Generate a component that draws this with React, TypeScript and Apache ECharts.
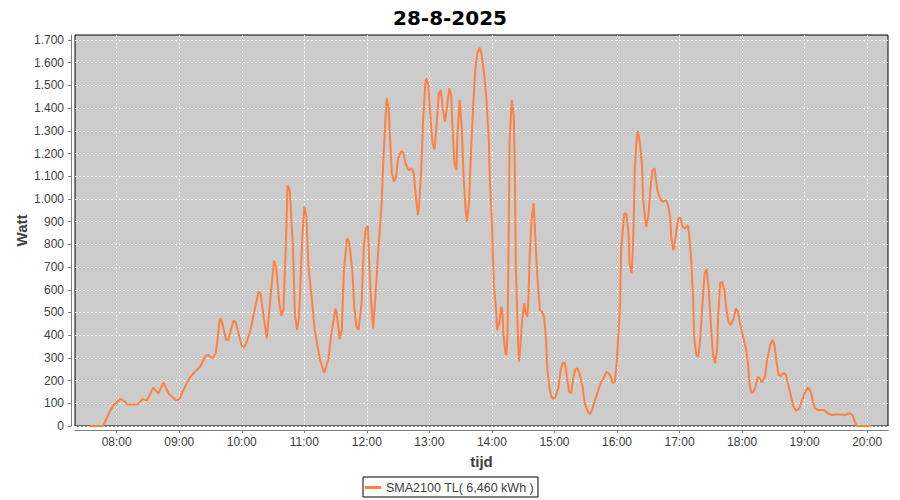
import React, { useEffect, useRef } from "react";
import * as echarts from "echarts";

const chartTitle = "28-8-2025";
const seriesName = "SMA2100 TL( 6,460 kWh )";
const yAxisName = "Watt";
const xAxisName = "tijd";

const times: string[] = [
  "07:34","07:47","07:54","07:57","08:04","08:08","08:10","08:20","08:25","08:29",
  "08:35","08:40","08:45","08:50","08:57","09:00","09:04","09:10","09:15","09:20",
  "09:25","09:28","09:32","09:35","09:37","09:39","09:41","09:45","09:47","09:52",
  "09:54","10:00","10:03","10:08","10:12","10:16","10:18","10:21","10:24","10:27",
  "10:31","10:33","10:36","10:38","10:40","10:42","10:44","10:46","10:49","10:51",
  "10:53","10:55","10:58","11:00","11:02","11:04","11:07","11:10","11:15","11:19",
  "11:23","11:26","11:30","11:31","11:34","11:36","11:38","11:41","11:43","11:46",
  "11:48","11:50","11:52","11:55","11:57","11:59","12:01","12:02","12:04","12:06",
  "12:08","12:11","12:14","12:16","12:18","12:19","12:21","12:22","12:24","12:26",
  "12:28","12:30","12:33","12:35","12:37","12:40","12:43","12:45","12:47","12:49",
  "12:50","12:52","12:54","12:56","12:57","12:59","13:01","13:03","13:05","13:07",
  "13:09","13:11","13:13","13:15","13:17","13:19","13:21","13:22","13:24","13:26",
  "13:27","13:29","13:31","13:33","13:35","13:36","13:38","13:40","13:42","13:44",
  "13:46","13:48","13:50","13:52","13:53","13:55","13:57","13:58","14:00","14:01",
  "14:02","14:04","14:05","14:07","14:09","14:10","14:11","14:13","14:14","14:15",
  "14:16","14:17","14:19","14:21","14:22","14:23","14:25","14:26","14:27","14:29",
  "14:31","14:32","14:34","14:35","14:36","14:38","14:40","14:41","14:43","14:45",
  "14:46","14:48","14:50","14:52","14:53","14:55","14:57","14:59","15:01","15:04",
  "15:06","15:08","15:10","15:12","15:14","15:16","15:18","15:20","15:22","15:24",
  "15:27","15:29","15:32","15:34","15:36","15:39","15:42","15:45","15:48","15:50",
  "15:52","15:54","15:56","15:58","16:00","16:01","16:03","16:04","16:07","16:09",
  "16:11","16:12","16:14","16:15","16:16","16:17","16:19","16:20","16:22","16:24",
  "16:25","16:27","16:28","16:30","16:32","16:34","16:36","16:37","16:39","16:42",
  "16:44","16:47","16:49","16:51","16:52","16:54","16:55","16:57","16:59","17:01",
  "17:03","17:05","17:08","17:09","17:11","17:13","17:14","17:16","17:18","17:20",
  "17:22","17:24","17:26","17:28","17:30","17:32","17:34","17:36","17:37","17:39",
  "17:41","17:43","17:45","17:47","17:49","17:52","17:54","17:56","17:58","18:01",
  "18:04","18:06","18:07","18:09","18:11","18:13","18:15","18:17","18:19","18:22",
  "18:24","18:27","18:29","18:31","18:33","18:35","18:37","18:40","18:42","18:44",
  "18:47","18:49","18:52","18:55","18:57","19:00","19:03","19:06","19:08","19:10",
  "19:13","19:19","19:22","19:26","19:30","19:36","19:38","19:43","19:46","19:48",
  "19:50","20:04"
];

const watts: number[] = [
  0,0,70,92,119,107,95,95,119,112,
  169,144,191,141,114,117,158,213,239,261,
  308,313,298,320,393,474,459,379,379,464,
  459,352,349,415,503,591,584,481,386,540,
  728,701,540,486,511,760,1061,1039,797,489,
  423,481,826,966,922,701,569,423,291,235,
  291,408,518,496,383,423,687,826,812,687,
  518,437,423,540,790,870,880,745,555,430,
  555,775,966,1186,1362,1443,1399,1289,1113,1076,
  1098,1179,1211,1204,1157,1127,1135,1113,1010,929,
  966,1113,1347,1502,1531,1502,1362,1245,1218,1333,
  1465,1480,1391,1340,1406,1487,1458,1333,1157,1127,
  1289,1436,1318,1083,937,900,981,1215,1406,1568,
  1641,1667,1641,1568,1530,1421,1259,1083,907,731,
  613,511,423,452,525,511,408,320,313,408,
  819,1259,1436,1362,1113,687,379,283,335,467,
  540,503,481,555,716,907,981,893,701,569,
  511,503,481,379,261,173,129,119,129,173,
  247,279,279,217,151,144,210,250,254,232,
  173,100,63,52,70,114,158,195,220,239,
  232,217,188,195,291,379,540,780,937,935,
  849,716,672,760,893,1127,1274,1300,1245,1149,
  1010,907,878,922,1039,1127,1135,1098,1032,995,
  988,995,973,922,834,775,790,863,919,915,
  878,870,885,849,745,569,393,313,305,393,
  540,672,690,599,452,320,276,335,481,628,
  635,599,511,459,445,474,518,503,452,393,
  335,261,188,144,151,175,217,210,191,217,
  291,357,379,357,283,225,220,235,225,188,
  129,88,67,78,107,144,170,151,107,78,
  70,70,56,48,51,51,47,56,48,19,
  0,0
];

const hourTicks: string[] = [
  "08:00","09:00","10:00","11:00","12:00","13:00","14:00",
  "15:00","16:00","17:00","18:00","19:00","20:00"
];
const wattTicks: number[] = [
  0,100,200,300,400,500,600,700,800,900,1000,1100,1200,1300,1400,1500,1600,1700
];

const toMin = (t: string) => {
  const [h, m] = t.split(":").map(Number);
  return h * 60 + m;
};
const fmtMin = (v: number) => {
  const h = Math.floor(v / 60);
  const m = Math.round(v - h * 60);
  return String(h).padStart(2, "0") + ":" + String(m).padStart(2, "0");
};
const fmtWatt = (v: number) => {
  if (v >= 1000) {
    const th = Math.floor(v / 1000);
    const rest = Math.round(v - th * 1000);
    return th + "." + String(rest).padStart(3, "0");
  }
  return String(v);
};

const FONT = "Liberation Sans";

export default function App() {
  const ref = useRef<HTMLDivElement>(null);
  useEffect(() => {
    document.body.style.margin = "0";
    if (!ref.current) return;
    const chart = echarts.init(ref.current, undefined, { renderer: "svg" });
    const data = times.map((t, i) => [toMin(t), watts[i]]);
    chart.setOption({
      animation: false,
      backgroundColor: "#ffffff",
      title: {
        text: chartTitle,
        left: "center",
        top: 3,
        textStyle: { fontFamily: "DejaVu Sans", fontSize: 20, fontWeight: "bold", color: "#000" },
      },
      legend: {
        left: 363,
        top: 477,
        padding: [4, 4, 3, 2],
        borderColor: "#000",
        borderWidth: 1,
        itemWidth: 16,
        itemHeight: 3,
        itemGap: 0,
        icon: "rect",
        textStyle: { fontFamily: FONT, fontSize: 12.5, color: "#404040" },
        data: [seriesName],
      },
      grid: {
        left: 75,
        right: 12,
        top: 35,
        bottom: 74,
        show: true,
        backgroundColor: "#cccccc",
        borderColor: "#000",
        borderWidth: 1,
      },
      xAxis: {
        type: "value",
        min: 440,
        max: 1220,
        offset: 4,
        name: xAxisName,
        nameLocation: "middle",
        nameGap: 24,
        nameTextStyle: { fontFamily: FONT, fontSize: 15, fontWeight: "bold", color: "#404040" },
        axisLine: { show: true, onZero: false, lineStyle: { color: "#808080", width: 1 } },
        axisTick: { show: true, length: 3, lineStyle: { color: "#808080" }, customValues: hourTicks.map(toMin) },
        axisLabel: {
          customValues: hourTicks.map(toMin),
          formatter: (v: number) => fmtMin(v),
          fontFamily: FONT,
          fontSize: 12,
          color: "#404040",
          margin: 6,
        },
        splitLine: { show: true, lineStyle: { color: "#ffffff", type: [2, 2], width: 1 } },
      },
      yAxis: {
        type: "value",
        min: 0,
        max: 1722,
        interval: 100,
        offset: 4,
        name: yAxisName,
        nameLocation: "middle",
        nameGap: 42,
        nameMoveOverlap: false,
        nameTextStyle: { fontFamily: FONT, fontSize: 15, fontWeight: "bold", color: "#404040" },
        axisLine: { show: true, lineStyle: { color: "#808080", width: 1 } },
        axisTick: { show: true, length: 3, lineStyle: { color: "#808080" }, customValues: wattTicks },
        axisLabel: {
          customValues: wattTicks,
          formatter: (v: number) => fmtWatt(v),
          fontFamily: FONT,
          fontSize: 12,
          color: "#404040",
          margin: 7,
        },
        splitLine: { show: true, lineStyle: { color: "#ffffff", type: [2, 2], width: 1 } },
      },
      series: [
        {
          name: seriesName,
          type: "line",
          data,
          showSymbol: false,
          symbol: "none",
          smooth: false,
          lineStyle: { color: "#ff8040", width: 2 },
          itemStyle: { color: "#ff8040" },
        },
      ],
    });
    return () => chart.dispose();
  }, []);
  return <div ref={ref} style={{ width: 900, height: 500 }} />;
}
